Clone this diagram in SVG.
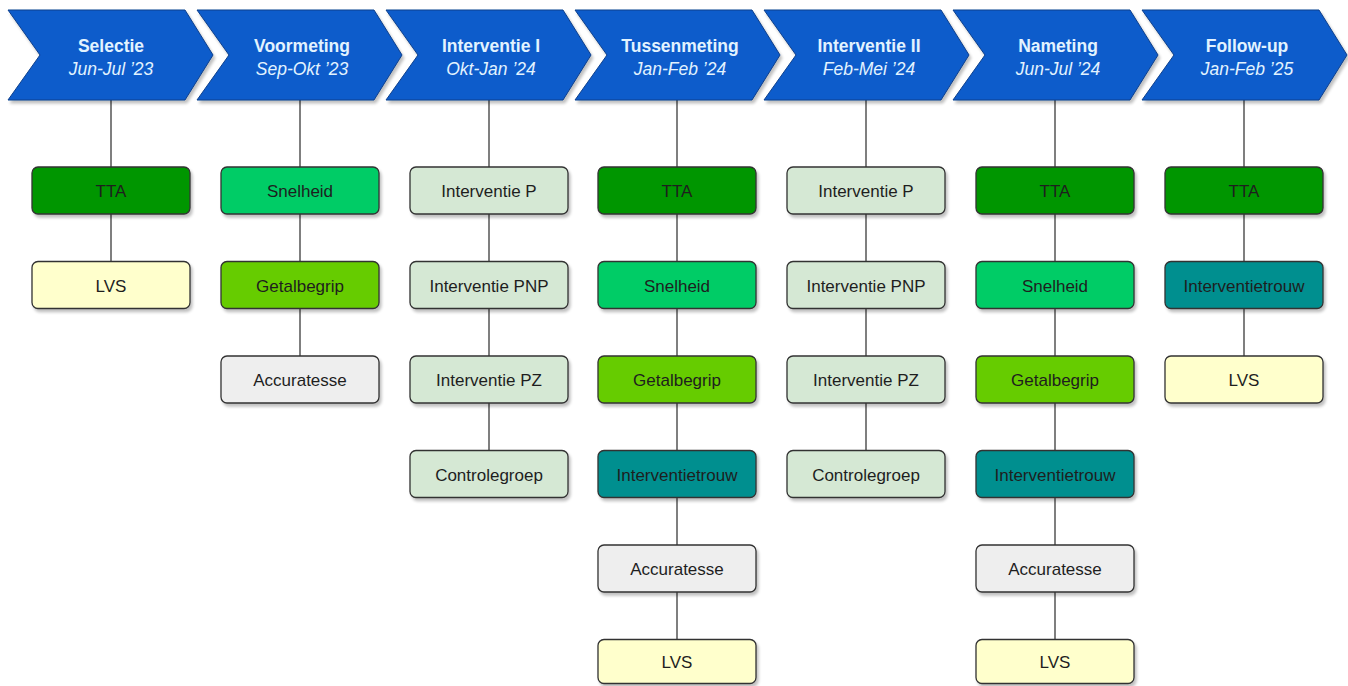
<svg xmlns="http://www.w3.org/2000/svg" width="1348" height="686" viewBox="0 0 1348 686">
<defs>
<filter id="sh" x="-10%" y="-20%" width="130%" height="160%">
<feGaussianBlur in="SourceAlpha" stdDeviation="1.5"/>
<feOffset dx="2" dy="3" result="o"/>
<feComponentTransfer><feFuncA type="linear" slope="0.25"/></feComponentTransfer>
<feMerge><feMergeNode/><feMergeNode in="SourceGraphic"/></feMerge>
</filter>
<style>
.chev{fill:#0b5ccb;stroke:#0a3f8c;stroke-width:1;filter:url(#sh)}
.ct{font-family:"Liberation Sans",Arial,sans-serif;font-size:17.5px;fill:#e2f3ff;text-anchor:middle}
.cb{font-weight:bold}
.ci{font-style:italic}
.box{stroke:#333;stroke-width:1.3;filter:url(#sh)}
.bt{font-family:"Liberation Sans",Arial,sans-serif;font-size:17px;fill:#1e1e1e;text-anchor:middle}
.tta{fill:#009600}
.sn{fill:#00cc66}
.gb{fill:#66cc00}
.it{fill:#008f8f}
.ac{fill:#eeeeee}
.lvs{fill:#ffffcc}
.iv{fill:#d5e8d4}
.con line{stroke:#555;stroke-width:1.5}
</style>
</defs>
<rect width="1348" height="686" fill="#ffffff"/>
<g class="con">
<line x1="111" y1="100" x2="111" y2="167"/><line x1="111" y1="214" x2="111" y2="261.5"/>
<line x1="300" y1="100" x2="300" y2="167"/><line x1="300" y1="214" x2="300" y2="261.5"/><line x1="300" y1="308.5" x2="300" y2="356"/>
<line x1="489" y1="100" x2="489" y2="167"/><line x1="489" y1="214" x2="489" y2="261.5"/><line x1="489" y1="308.5" x2="489" y2="356"/><line x1="489" y1="403" x2="489" y2="450.5"/>
<line x1="677" y1="100" x2="677" y2="167"/><line x1="677" y1="214" x2="677" y2="261.5"/><line x1="677" y1="308.5" x2="677" y2="356"/><line x1="677" y1="403" x2="677" y2="450.5"/><line x1="677" y1="497.5" x2="677" y2="545"/><line x1="677" y1="592" x2="677" y2="639.5"/>
<line x1="866" y1="100" x2="866" y2="167"/><line x1="866" y1="214" x2="866" y2="261.5"/><line x1="866" y1="308.5" x2="866" y2="356"/><line x1="866" y1="403" x2="866" y2="450.5"/>
<line x1="1055" y1="100" x2="1055" y2="167"/><line x1="1055" y1="214" x2="1055" y2="261.5"/><line x1="1055" y1="308.5" x2="1055" y2="356"/><line x1="1055" y1="403" x2="1055" y2="450.5"/><line x1="1055" y1="497.5" x2="1055" y2="545"/><line x1="1055" y1="592" x2="1055" y2="639.5"/>
<line x1="1244" y1="100" x2="1244" y2="167"/><line x1="1244" y1="214" x2="1244" y2="261.5"/><line x1="1244" y1="308.5" x2="1244" y2="356"/>
</g>
<g id="phase-selectie"><polygon class="chev" points="8,10 185,10 213,55 185,100 8,100 40,55"/><text class="ct cb" x="111" y="52">Selectie</text><text class="ct ci" x="111" y="75">Jun-Jul ’23</text></g>
<g id="phase-voormeting"><polygon class="chev" points="197,10 374,10 402,55 374,100 197,100 229,55"/><text class="ct cb" x="302" y="52">Voormeting</text><text class="ct ci" x="302" y="75">Sep-Okt ’23</text></g>
<g id="phase-interventie1"><polygon class="chev" points="386,10 563,10 591,55 563,100 386,100 418,55"/><text class="ct cb" x="491" y="52">Interventie I</text><text class="ct ci" x="491" y="75">Okt-Jan ’24</text></g>
<g id="phase-tussenmeting"><polygon class="chev" points="575,10 752,10 780,55 752,100 575,100 607,55"/><text class="ct cb" x="680" y="52">Tussenmeting</text><text class="ct ci" x="680" y="75">Jan-Feb ’24</text></g>
<g id="phase-interventie2"><polygon class="chev" points="764,10 941,10 969,55 941,100 764,100 796,55"/><text class="ct cb" x="869" y="52">Interventie II</text><text class="ct ci" x="869" y="75">Feb-Mei ’24</text></g>
<g id="phase-nameting"><polygon class="chev" points="953,10 1130,10 1158,55 1130,100 953,100 985,55"/><text class="ct cb" x="1058" y="52">Nameting</text><text class="ct ci" x="1058" y="75">Jun-Jul ’24</text></g>
<g id="phase-followup"><polygon class="chev" points="1142,10 1319,10 1347,55 1319,100 1142,100 1174,55"/><text class="ct cb" x="1247" y="52">Follow-up</text><text class="ct ci" x="1247" y="75">Jan-Feb ’25</text></g>

<g id="c0-tta"><rect class="box tta" x="32" y="167" width="158" height="47" rx="6"/><text class="bt" x="111" y="197">TTA</text></g>
<g id="c0-lvs"><rect class="box lvs" x="32" y="261.5" width="158" height="47" rx="6"/><text class="bt" x="111" y="291.5">LVS</text></g>

<g id="c1-snelheid"><rect class="box sn" x="221" y="167" width="158" height="47" rx="6"/><text class="bt" x="300" y="197">Snelheid</text></g>
<g id="c1-getalbegrip"><rect class="box gb" x="221" y="261.5" width="158" height="47" rx="6"/><text class="bt" x="300" y="291.5">Getalbegrip</text></g>
<g id="c1-accuratesse"><rect class="box ac" x="221" y="356" width="158" height="47" rx="6"/><text class="bt" x="300" y="386">Accuratesse</text></g>

<g id="c2-p"><rect class="box iv" x="410" y="167" width="158" height="47" rx="6"/><text class="bt" x="489" y="197">Interventie P</text></g>
<g id="c2-pnp"><rect class="box iv" x="410" y="261.5" width="158" height="47" rx="6"/><text class="bt" x="489" y="291.5">Interventie PNP</text></g>
<g id="c2-pz"><rect class="box iv" x="410" y="356" width="158" height="47" rx="6"/><text class="bt" x="489" y="386">Interventie PZ</text></g>
<g id="c2-controle"><rect class="box iv" x="410" y="450.5" width="158" height="47" rx="6"/><text class="bt" x="489" y="480.5">Controlegroep</text></g>

<g id="c3-tta"><rect class="box tta" x="598" y="167" width="158" height="47" rx="6"/><text class="bt" x="677" y="197">TTA</text></g>
<g id="c3-snelheid"><rect class="box sn" x="598" y="261.5" width="158" height="47" rx="6"/><text class="bt" x="677" y="291.5">Snelheid</text></g>
<g id="c3-getalbegrip"><rect class="box gb" x="598" y="356" width="158" height="47" rx="6"/><text class="bt" x="677" y="386">Getalbegrip</text></g>
<g id="c3-trouw"><rect class="box it" x="598" y="450.5" width="158" height="47" rx="6"/><text class="bt" x="677" y="480.5">Interventietrouw</text></g>
<g id="c3-accuratesse"><rect class="box ac" x="598" y="545" width="158" height="47" rx="6"/><text class="bt" x="677" y="575">Accuratesse</text></g>
<g id="c3-lvs"><rect class="box lvs" x="598" y="639.5" width="158" height="44" rx="6"/><text class="bt" x="677" y="668">LVS</text></g>

<g id="c4-p"><rect class="box iv" x="787" y="167" width="158" height="47" rx="6"/><text class="bt" x="866" y="197">Interventie P</text></g>
<g id="c4-pnp"><rect class="box iv" x="787" y="261.5" width="158" height="47" rx="6"/><text class="bt" x="866" y="291.5">Interventie PNP</text></g>
<g id="c4-pz"><rect class="box iv" x="787" y="356" width="158" height="47" rx="6"/><text class="bt" x="866" y="386">Interventie PZ</text></g>
<g id="c4-controle"><rect class="box iv" x="787" y="450.5" width="158" height="47" rx="6"/><text class="bt" x="866" y="480.5">Controlegroep</text></g>

<g id="c5-tta"><rect class="box tta" x="976" y="167" width="158" height="47" rx="6"/><text class="bt" x="1055" y="197">TTA</text></g>
<g id="c5-snelheid"><rect class="box sn" x="976" y="261.5" width="158" height="47" rx="6"/><text class="bt" x="1055" y="291.5">Snelheid</text></g>
<g id="c5-getalbegrip"><rect class="box gb" x="976" y="356" width="158" height="47" rx="6"/><text class="bt" x="1055" y="386">Getalbegrip</text></g>
<g id="c5-trouw"><rect class="box it" x="976" y="450.5" width="158" height="47" rx="6"/><text class="bt" x="1055" y="480.5">Interventietrouw</text></g>
<g id="c5-accuratesse"><rect class="box ac" x="976" y="545" width="158" height="47" rx="6"/><text class="bt" x="1055" y="575">Accuratesse</text></g>
<g id="c5-lvs"><rect class="box lvs" x="976" y="639.5" width="158" height="44" rx="6"/><text class="bt" x="1055" y="668">LVS</text></g>

<g id="c6-tta"><rect class="box tta" x="1165" y="167" width="158" height="47" rx="6"/><text class="bt" x="1244" y="197">TTA</text></g>
<g id="c6-trouw"><rect class="box it" x="1165" y="261.5" width="158" height="47" rx="6"/><text class="bt" x="1244" y="291.5">Interventietrouw</text></g>
<g id="c6-lvs"><rect class="box lvs" x="1165" y="356" width="158" height="47" rx="6"/><text class="bt" x="1244" y="386">LVS</text></g>
</svg>
